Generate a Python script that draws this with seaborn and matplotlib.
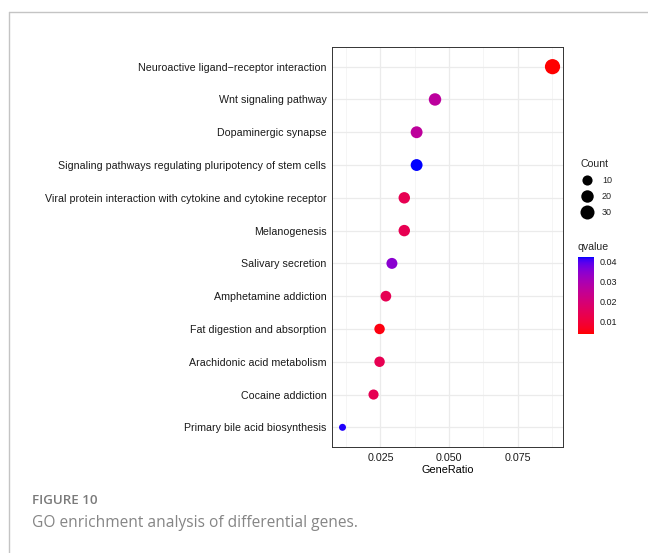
import numpy as np
import pandas as pd
import seaborn as sns
import matplotlib.pyplot as plt
from matplotlib.colors import LinearSegmentedColormap, Normalize
from matplotlib.lines import Line2D
from matplotlib.ticker import MultipleLocator, FormatStrFormatter
import matplotlib.cm as cm

# dados
pathways = [
    'Neuroactive ligand\u2212receptor interaction',
    'Wnt signaling pathway',
    'Dopaminergic synapse',
    'Signaling pathways regulating pluripotency of stem cells',
    'Viral protein interaction with cytokine and cytokine receptor',
    'Melanogenesis',
    'Salivary secretion',
    'Amphetamine addiction',
    'Fat digestion and absorption',
    'Arachidonic acid metabolism',
    'Cocaine addiction',
    'Primary bile acid biosynthesis',
]
gene_ratio = [0.0877, 0.0449, 0.0382, 0.0382, 0.0337, 0.0337,
              0.0292, 0.0270, 0.0247, 0.0247, 0.0225, 0.0112]
counts = [39, 20, 17, 17, 15, 15, 13, 12, 11, 11, 10, 5]
qvalues = [0.0039, 0.0265, 0.0262, 0.0424, 0.0140, 0.0140,
           0.0350, 0.0142, 0.0050, 0.0140, 0.0142, 0.0418]
count_breaks = [10, 20, 30]
q_breaks = [0.01, 0.02, 0.03, 0.04]

df = pd.DataFrame({'Description': pathways, 'GeneRatio': gene_ratio,
                   'Count': counts, 'qvalue': qvalues})


# gradiente vermelho -> azul interpolado em Lab (como no ggplot)
def srgb_to_lab(rgb):
    c = np.array(rgb, dtype=float)
    c = np.where(c <= 0.04045, c / 12.92, ((c + 0.055) / 1.055) ** 2.4)
    m = np.array([[0.4124, 0.3576, 0.1805],
                  [0.2126, 0.7152, 0.0722],
                  [0.0193, 0.1192, 0.9505]])
    xyz = m @ c / np.array([0.95047, 1.0, 1.08883])
    d = 6 / 29
    f = np.where(xyz > d ** 3, np.cbrt(xyz), xyz / (3 * d ** 2) + 4 / 29)
    return np.array([116 * f[1] - 16, 500 * (f[0] - f[1]), 200 * (f[1] - f[2])])


def lab_to_srgb(lab):
    L, a, b = lab
    fy = (L + 16) / 116
    f = np.array([fy + a / 500, fy, fy - b / 200])
    d = 6 / 29
    xyz = np.where(f > d, f ** 3, 3 * d ** 2 * (f - 4 / 29)) * np.array([0.95047, 1.0, 1.08883])
    m = np.array([[3.2406, -1.5372, -0.4986],
                  [-0.9689, 1.8758, 0.0415],
                  [0.0557, -0.2040, 1.0570]])
    c = np.clip(m @ xyz, 0, 1)
    c = np.where(c <= 0.0031308, 12.92 * c, 1.055 * c ** (1 / 2.4) - 0.055)
    return np.clip(c, 0, 1)


lab_lo = srgb_to_lab([1, 0, 0])
lab_hi = srgb_to_lab([0, 0, 1])
stops = [lab_to_srgb(lab_lo + t * (lab_hi - lab_lo)) for t in np.linspace(0, 1, 64)]
cmap = LinearSegmentedColormap.from_list('red_blue_lab', stops)
qnorm = Normalize(min(qvalues), max(qvalues))

cmin, cmax = min(counts), max(counts)


def dot_size(c):
    # area_pal do ggplot: diametro linear em sqrt da escala
    t = (c - cmin) / (cmax - cmin)
    d_px = 7.0 + 8.2 * np.sqrt(t)
    return d_px * 0.72


size_map = {c: dot_size(c) ** 2 for c in sorted(set(counts))}

sns.set_style("white")
plt.rcParams['font.family'] = ['Liberation Sans', 'DejaVu Sans']

fig = plt.figure(figsize=(6.48, 5.53), dpi=100)
ax = fig.add_axes([332 / 648, 1 - 447 / 553, 231 / 648, 400 / 553])

sns.scatterplot(data=df, x='GeneRatio', y='Description', hue='qvalue', size='Count',
                palette=cmap, hue_norm=qnorm, sizes=size_map, linewidth=0,
                legend=False, ax=ax, zorder=3)

n = len(pathways)
ax.set_ylim(n - 1 + 0.6, -0.6)
span = max(gene_ratio) - min(gene_ratio)
ax.set_xlim(min(gene_ratio) - 0.05 * span, max(gene_ratio) + 0.05 * span)

ax.xaxis.set_major_locator(MultipleLocator(0.025))
ax.xaxis.set_minor_locator(MultipleLocator(0.0125))
ax.xaxis.set_major_formatter(FormatStrFormatter('%.3f'))
ax.grid(True, which='major', color='#ebebeb', lw=0.9, zorder=0)
ax.grid(True, which='minor', axis='x', color='#f2f2f2', lw=0.5, zorder=0)
ax.set_axisbelow(True)
ax.tick_params(which='major', length=2.5, width=0.6, color='#333333',
               labelsize=7.7, labelcolor='#1a1a1a', pad=1.5)
ax.tick_params(which='minor', length=0)
for sp in ax.spines.values():
    sp.set_color('#333333')
    sp.set_linewidth(0.7)
ax.set_xlabel('GeneRatio', fontsize=7.8, color='black', labelpad=1.5)
ax.set_ylabel('')

# legenda Count
handles = [Line2D([], [], marker='o', ls='', color='black', markeredgewidth=0,
                  markersize=dot_size(c)) for c in count_breaks]
leg = fig.legend(handles, [str(c) for c in count_breaks], title='Count',
                 loc='upper left', bbox_to_anchor=(574 / 648, 1 - 153 / 553),
                 frameon=False, fontsize=6.5, title_fontsize=7.6,
                 handletextpad=1.0, labelspacing=0.78, borderpad=0.2,
                 handlelength=1.4)
leg._legend_box.align = 'left'

# barra de cores qvalue
fig.text(578 / 648, 1 - 247 / 553, 'qvalue', fontsize=7.6, va='center', ha='left')
cax = fig.add_axes([578 / 648, 1 - 334 / 553, 16 / 648, 77 / 553])
cb = fig.colorbar(cm.ScalarMappable(norm=qnorm, cmap=cmap), cax=cax)
cb.outline.set_visible(False)
cb.set_ticks(q_breaks)
cb.ax.yaxis.set_major_formatter(FormatStrFormatter('%.2f'))
cb.ax.tick_params(left=True, right=True, direction='in', length=3, width=0.5,
                  color='white', labelsize=6.5, labelcolor='#1a1a1a', pad=4)

# moldura e legenda da figura
fig.add_artist(Line2D([9 / 648, 9 / 648], [0, 1 - 12 / 553], transform=fig.transFigure,
                      color='#c4c4c4', lw=1))
fig.add_artist(Line2D([9 / 648, 1], [1 - 12 / 553, 1 - 12 / 553], transform=fig.transFigure,
                      color='#c4c4c4', lw=1))
fig.text(32 / 648, 1 - 500 / 553, 'FIGURE 10', fontsize=9.6, color='#7a7a7a',
         family=['Open Sans', 'DejaVu Sans'], weight='semibold', va='center', ha='left')
fig.text(32 / 648, 1 - 523 / 553, 'GO enrichment analysis of differential genes.',
         fontsize=11.2, color='#858585', family=['Open Sans', 'DejaVu Sans'],
         weight='normal', va='center', ha='left')

fig.savefig('out.png', dpi=100)
